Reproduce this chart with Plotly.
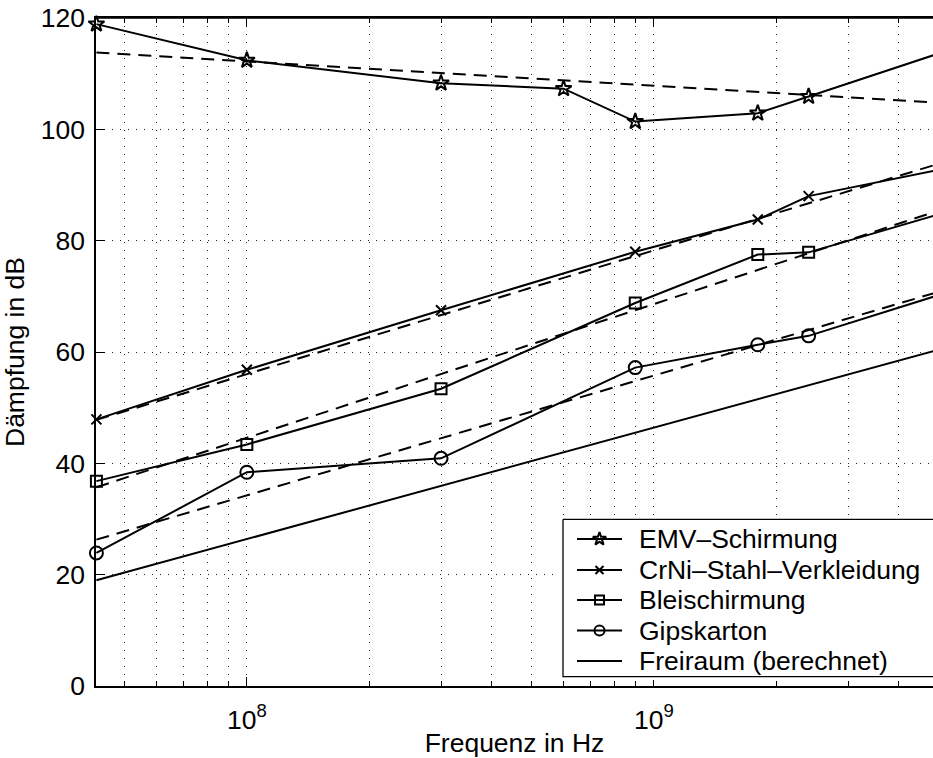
import numpy as np
import plotly.graph_objects as go

# Messfrequenzen in Hz
freq = [4.27e7, 1e8, 3e8, 6e8, 9e8, 1.8e9, 2.4e9, 5e9]
freq_cr = [4.27e7, 1e8, 3e8, 9e8, 1.8e9, 2.4e9, 5e9]

# Gemessene Dämpfung in dB
emv = [118.9, 112.4, 108.3, 107.3, 101.4, 102.9, 105.9, 113.6]
crni = [47.9, 56.8, 67.5, 78.0, 83.8, 88.0, 92.7]
blei = [36.8, 43.4, 53.4, 68.8, 77.5, 77.9, 84.7]
gips = [23.9, 38.4, 40.9, 57.2, 61.3, 62.9, 70.2]

# Ausgleichsgeraden (Endpunkte) und Freiraumdämpfung
fit_freq = [4.27e7, 5e9]
emv_fit = [113.8, 104.8]
crni_fit = [47.8, 93.8]
blei_fit = [35.7, 85.4]
gips_fit = [26.3, 70.8]
frei = [19.0, 60.4]

x_major = [1e8, 1e9]
x_major_text = ["10<sup>8</sup>", "10<sup>9</sup>"]
x_minor = [5e7, 6e7, 7e7, 8e7, 9e7,
           2e8, 3e8, 4e8, 5e8, 6e8, 7e8, 8e8, 9e8,
           2e9, 3e9, 4e9]
y_ticks = [0, 20, 40, 60, 80, 100, 120]

FONT = "Liberation Sans, Arial, Helvetica, sans-serif"
FS = 26.5
DOTS = "1px,7px"

W, H = 933, 758
ML, MR, MT, MB = 96, 0, 18, 72
PW, PH = W - ML - MR, H - MT - MB

fig = go.Figure()

for yv in (emv_fit, crni_fit, blei_fit, gips_fit):
    fig.add_trace(go.Scatter(
        x=fit_freq, y=yv, mode="lines", showlegend=False,
        line=dict(color="black", width=2, dash="13px,8px"),
        hoverinfo="skip"))

series = [
    ("EMV\u2013Schirmung", freq, emv, "star-open", 12, 10),
    ("CrNi\u2013Stahl\u2013Verkleidung", freq_cr, crni, "x-thin-open", 10, 8),
    ("Bleischirmung", freq_cr, blei, "square-open", 11, 9),
    ("Gipskarton", freq_cr, gips, "circle-open", 13, 10),
]
for name, xs, ys, sym, size, _ in series:
    fig.add_trace(go.Scatter(
        x=xs, y=ys, mode="lines+markers", name=name, showlegend=False,
        cliponaxis=False,
        line=dict(color="black", width=2),
        marker=dict(symbol=sym, size=size, color="black",
                    line=dict(color="black", width=2))))

fig.add_trace(go.Scatter(
    x=fit_freq, y=frei, mode="lines", name="Freiraum (berechnet)",
    showlegend=False, line=dict(color="black", width=2)))

# Legende als eigenes Feld unten rechts (Pixelkoordinaten)
LEG_LEFT, LEG_TOP, LEG_BOTTOM = 563, 519.3, 676.7
LEG_ROWS = [539, 570, 600, 630.5, 661]
LINE_X = [577, 622]
TEXT_X = 637
fig.add_trace(go.Scatter(
    x=[LEG_LEFT, 960, 960, LEG_LEFT, LEG_LEFT],
    y=[LEG_TOP, LEG_TOP, LEG_BOTTOM, LEG_BOTTOM, LEG_TOP],
    xaxis="x2", yaxis="y2", mode="lines", fill="toself",
    fillcolor="white", line=dict(color="black", width=1.3),
    showlegend=False, hoverinfo="skip"))

entries = [(s[0], s[3], s[5]) for s in series] + [("Freiraum (berechnet)", None, 0)]
for (label, sym, msize), ry in zip(entries, LEG_ROWS):
    fig.add_trace(go.Scatter(
        x=LINE_X, y=[ry, ry], xaxis="x2", yaxis="y2", mode="lines",
        line=dict(color="black", width=2), showlegend=False,
        hoverinfo="skip"))
    if sym:
        fig.add_trace(go.Scatter(
            x=[sum(LINE_X) / 2], y=[ry], xaxis="x2", yaxis="y2",
            mode="markers", showlegend=False, hoverinfo="skip",
            marker=dict(symbol=sym, size=msize, color="black",
                        line=dict(color="black", width=2))))
    fig.add_annotation(
        x=TEXT_X, y=ry, xref="x2", yref="y2", text=label,
        showarrow=False, xanchor="left", yanchor="middle",
        font=dict(family=FONT, size=FS, color="black"))

X2_LO, Y2_LO, Y2_HI = 560, 680, 516

xaxis_main = dict(
    type="log",
    range=[np.log10(freq[0]) - 0.001, np.log10(4.85e9)],
    tickmode="array", tickvals=x_major, ticktext=x_major_text,
    ticks="inside", ticklen=9, tickwidth=1.2, tickcolor="black",
    showline=True, linecolor="black", linewidth=1.5, mirror="ticks",
    showgrid=True, gridcolor="#222", gridwidth=1, griddash=DOTS,
    zeroline=False,
    tickfont=dict(family=FONT, size=FS),
    ticklabelstandoff=9,
    minor=dict(tickmode="array", tickvals=x_minor, ticks="inside",
               ticklen=5, tickwidth=1, tickcolor="black",
               showgrid=True, gridcolor="#222", gridwidth=1,
               griddash=DOTS),
    title=dict(text="Frequenz in Hz", font=dict(family=FONT, size=FS),
               standoff=6),
)

yaxis_main = dict(
    range=[0, 120],
    tickmode="array", tickvals=y_ticks,
    ticks="inside", ticklen=9, tickwidth=1.2, tickcolor="black",
    showline=True, linecolor="black", linewidth=1.5, mirror=False,
    showgrid=True, gridcolor="#222", gridwidth=1, griddash=DOTS,
    zeroline=False,
    tickfont=dict(family=FONT, size=FS),
    ticklabelstandoff=4,
    title=dict(text="Dämpfung in dB", font=dict(family=FONT, size=FS),
               standoff=14),
)

fig.update_layout(
    width=W, height=H,
    margin=dict(l=ML, r=MR, t=MT, b=MB),
    paper_bgcolor="white", plot_bgcolor="white",
    font=dict(family=FONT, size=FS, color="black"),
    showlegend=False,
    xaxis=xaxis_main,
    yaxis=yaxis_main,
    xaxis2=dict(domain=[(X2_LO - ML) / PW, 1], range=[X2_LO, W],
                visible=False, anchor="y2"),
    yaxis2=dict(domain=[(H - MB - Y2_LO) / PH, (H - MB - Y2_HI) / PH],
                range=[Y2_LO, Y2_HI], visible=False, anchor="x2"),
)

# obere Rahmenlinie
fig.add_shape(type="line", xref="paper", yref="paper",
              x0=0, x1=1, y0=1, y1=1,
              line=dict(color="black", width=1.5))

fig.write_html("out.html")
